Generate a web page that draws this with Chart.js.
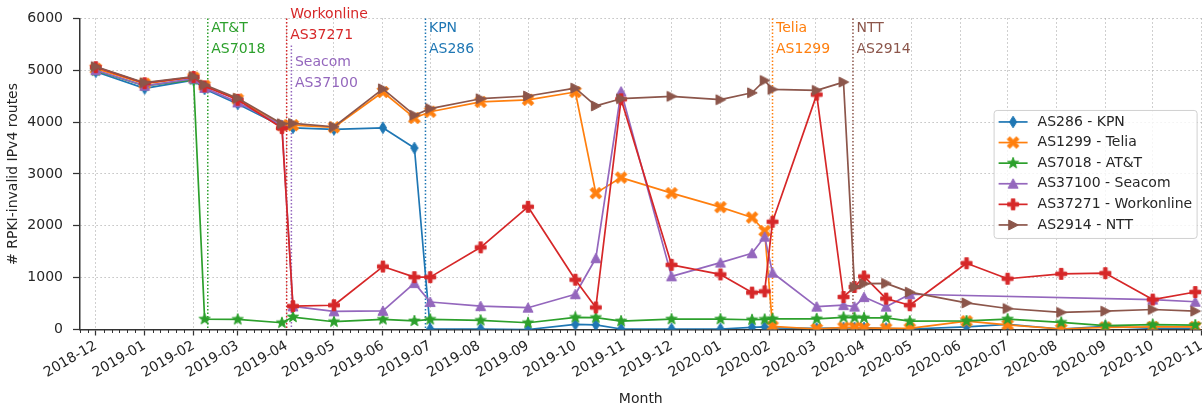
<!DOCTYPE html>
<html>
<head>
<meta charset="utf-8">
<script src="https://cdn.jsdelivr.net/npm/chart.js@4.4.0/dist/chart.umd.min.js"></script>
<style>
  html, body { margin: 0; padding: 0; background: #fff; overflow: hidden; }
  #wrap { width: 1212px; height: 411px; }
</style>
</head>
<body>
<div id="wrap"><canvas id="chart" width="1212" height="411"></canvas></div>
<script>
// Measurement dates (x positions of the markers)
const dates = ['2018-12-01', '2019-01-01', '2019-02-01', '2019-02-08', '2019-03-01', '2019-03-29',
    '2019-04-05', '2019-05-01', '2019-06-01', '2019-06-21', '2019-07-01', '2019-08-02',
    '2019-09-01', '2019-10-01', '2019-10-14', '2019-10-30', '2019-12-01', '2020-01-01',
    '2020-01-21', '2020-01-29', '2020-02-03', '2020-03-02', '2020-03-19', '2020-03-26',
    '2020-04-01', '2020-04-15', '2020-04-30', '2020-06-05', '2020-07-01', '2020-08-04',
    '2020-09-01', '2020-10-01', '2020-10-28'];

// # RPKI-invalid IPv4 routes per AS
const kpn = [4970, 4650, 4810, 4640, 4350, 3920, 3890, 3860, 3890, 3500, 10, 10, 0, 100, 90, 10, 10,
    10, 40, 50, 30, 20, 30, 30, 30, 20, 10, 50, 100, 10, 60, 20, 20];
const telia = [5030, 4740, 4860, 4700, 4440, 3940, 3940, 3900, 4580, 4080, 4200, 4390, 4430, 4580, 2630,
    2930, 2630, 2360, 2160, 1900, 60, 10, 40, 40, 30, 20, 20, 160, 90, 10, 40, 50, 50];
const att = [4990, 4700, 4820, 200, 195, 130, 240, 150, 195, 165, 195, 175, 130, 233, 230, 162, 200,
    200, 188, 195, 205, 205, 235, 230, 225, 225, 160, 165, 200, 137, 75, 95, 86];
const seacom = [5000, 4700, 4840, 4660, 4380, 3940, 445, 350, 360, 895, 530, 450, 420, 680, 1375, 4590,
    1025, 1290, 1470, 1790, 1095, 440, 470, 440, 625, 440, 680, null, null, null, null, 577, 535];
const workonline = [5060, 4750, 4870, 4690, 4430, 3885, 450, 468, 1214, 1010, 1010, 1585, 2367, 960, 425,
    4440, 1247, 1062, 712, 736, 2077, 4530, 627, 820, 1023, 596, 468, 1278, 979, 1074, 1087, 577, 723];
const ntt = [5070, 4760, 4880, 4720, 4460, 3970, 3975, 3910, 4642, 4133, 4260, 4451, 4503, 4656, 4312,
    4451, 4497, 4432, 4566, 4803, 4631, 4612, 4771, 818, 883, 890, 720, 513, 405, 330, 354, 386, 354];

const seriesLabels = ['AS286 - KPN', 'AS1299 - Telia', 'AS7018 - AT&T', 'AS37100 - Seacom',
    'AS37271 - Workonline', 'AS2914 - NTT'];
const seriesValues = [kpn, telia, att, seacom, workonline, ntt];

// x-axis tick labels (month starts)
const monthLabels = ['2018-12', '2019-01', '2019-02', '2019-03', '2019-04', '2019-05', '2019-06',
    '2019-07', '2019-08', '2019-09', '2019-10', '2019-11', '2019-12', '2020-01', '2020-02', '2020-03',
    '2020-04', '2020-05', '2020-06', '2020-07', '2020-08', '2020-09', '2020-10', '2020-11'];

// ROV deployment events (vertical lines)
const eventDates = ['2019-02-10', '2019-04-01', '2019-04-04', '2019-06-28', '2020-02-03', '2020-03-25'];
const eventNames = ['AT&T', 'Workonline', 'Seacom', 'KPN', 'Telia', 'NTT'];
const eventAsns = ['AS7018', 'AS37271', 'AS37100', 'AS286', 'AS1299', 'AS2914'];
const eventSeries = [2, 4, 3, 0, 1, 5];

const palette = ['#1f77b4', '#ff7f0e', '#2ca02c', '#9467bd', '#d62728', '#8c564b'];
const shapes = ['d', 'X', '*', '^', 'P', '>'];

const dayOf = s => (Date.parse(s) - Date.parse('2018-12-01')) / 864e5;
const monthDays = monthLabels.map(m => dayOf(m + '-01'));

Chart.defaults.font.family = '"DejaVu Sans", sans-serif';
Chart.defaults.font.size = 14;
Chart.defaults.color = '#262626';

// matplotlib-like filled markers
function makeMarker(shape, color) {
    const s = 18, c = s / 2;
    const cv = document.createElement('canvas');
    cv.width = s;
    cv.height = s;
    const g = cv.getContext('2d');
    g.fillStyle = color;
    g.strokeStyle = color;
    g.lineWidth = 1;
    let pts = [];
    if (shape === 'd') {
        pts = [[0, -5.8], [3.6, 0], [0, 5.8], [-3.6, 0]];
    } else if (shape === '^') {
        pts = [[0, -5], [5, 4.4], [-5, 4.4]];
    } else if (shape === '>') {
        pts = [[5.2, 0], [-4.4, -5], [-4.4, 5]];
    } else if (shape === '*') {
        for (let k = 0; k < 10; k++) {
            const r = k % 2 ? 2.4 : 5.8, t = -Math.PI / 2 + k * Math.PI / 5;
            pts.push([r * Math.cos(t), r * Math.sin(t)]);
        }
    } else {
        // filled plus, rotated 45 degrees for the X
        const w = 1.8, L = shape === 'X' ? 6.5 : 5.4;
        const plus = [[-w, -L], [w, -L], [w, -w], [L, -w], [L, w], [w, w], [w, L], [-w, L],
            [-w, w], [-L, w], [-L, -w], [-w, -w]];
        const t = shape === 'X' ? Math.PI / 4 : 0;
        pts = plus.map(([px, py]) => [px * Math.cos(t) - py * Math.sin(t), px * Math.sin(t) + py * Math.cos(t)]);
    }
    g.beginPath();
    pts.forEach(([px, py], k) => k ? g.lineTo(c + px, c + py) : g.moveTo(c + px, c + py));
    g.closePath();
    g.fill();
    g.stroke();
    return cv;
}

const datasets = seriesLabels.map((label, i) => ({
    label,
    data: dates.map((d, k) => ({ x: dayOf(d), y: seriesValues[i][k] })),
    borderColor: palette[i],
    backgroundColor: palette[i],
    borderWidth: 1.7,
    borderJoinStyle: 'round',
    pointStyle: makeMarker(shapes[i], palette[i]),
    pointRadius: 5,
    spanGaps: true,
    order: seriesLabels.length - i
}));

// dotted vertical lines with the AS name / number
const eventLines = {
    id: 'eventLines',
    beforeDatasetsDraw(chart) {
        const { ctx, chartArea: a, scales: { x } } = chart;
        const firstBaseline = [14, 0, 48, 14, 14, 14];
        ctx.save();
        ctx.font = '14px "DejaVu Sans"';
        ctx.textBaseline = 'alphabetic';
        eventDates.forEach((d, i) => {
            const px = x.getPixelForValue(dayOf(d));
            const color = palette[eventSeries[i]];
            const top = eventNames[i] === 'Seacom' ? a.top + 27 : a.top;
            ctx.strokeStyle = color;
            ctx.lineWidth = 1.5;
            ctx.setLineDash([1.5, 2]);
            ctx.beginPath();
            ctx.moveTo(px, top);
            ctx.lineTo(px, a.bottom);
            ctx.stroke();
            ctx.fillStyle = color;
            const by = a.top + firstBaseline[i];
            ctx.fillText(eventNames[i], px + 3.5, by);
            ctx.fillText(eventAsns[i], px + 3.5, by + 20.5);
        });
        ctx.restore();
    }
};

// minor ticks every 5 days on the x axis
const minorTicks = {
    id: 'minorTicks',
    afterDraw(chart) {
        const { ctx, chartArea: a, scales: { x } } = chart;
        ctx.save();
        ctx.strokeStyle = '#333';
        ctx.lineWidth = 1;
        ctx.beginPath();
        ['2018-11'].concat(monthLabels).forEach(m => {
            [6, 11, 16, 21, 26].forEach(d => {
                const v = dayOf(m + '-' + String(d).padStart(2, '0'));
                if (v < x.min || v > x.max) return;
                const px = Math.round(x.getPixelForValue(v)) + 0.5;
                ctx.moveTo(px, a.bottom);
                ctx.lineTo(px, a.bottom + 3.5);
            });
        });
        ctx.stroke();
        ctx.restore();
    }
};

// legend box at centre right of the plot
const legendBox = {
    id: 'legendBox',
    afterDraw(chart) {
        const { ctx, chartArea: a } = chart;
        const w = 203, h = 128, rowH = 20.6;
        const x0 = a.right - 5 - w, y0 = (a.top + a.bottom) / 2 - h / 2;
        ctx.save();
        ctx.fillStyle = 'rgba(255,255,255,0.8)';
        ctx.strokeStyle = '#d0d0d0';
        ctx.lineWidth = 1;
        ctx.beginPath();
        if (ctx.roundRect) ctx.roundRect(x0 + 0.5, y0 + 0.5, w, h, 3);
        else ctx.rect(x0 + 0.5, y0 + 0.5, w, h);
        ctx.fill();
        ctx.stroke();
        ctx.font = '14px "DejaVu Sans"';
        ctx.textBaseline = 'middle';
        chart.data.datasets.forEach((ds, i) => {
            const cy = y0 + 12 + i * rowH;
            ctx.strokeStyle = ds.borderColor;
            ctx.lineWidth = 1.7;
            ctx.beginPath();
            ctx.moveTo(x0 + 5, cy);
            ctx.lineTo(x0 + 34, cy);
            ctx.stroke();
            const img = ds.pointStyle;
            ctx.drawImage(img, x0 + 19.5 - img.width / 2, cy - img.height / 2);
            ctx.fillStyle = '#262626';
            ctx.fillText(ds.label, x0 + 44, cy);
        });
        ctx.restore();
    }
};

new Chart(document.getElementById('chart'), {
    type: 'line',
    data: { datasets },
    plugins: [eventLines, minorTicks, legendBox],
    options: {
        responsive: false,
        animation: false,
        events: [],
        layout: { padding: { top: 16, right: 7, left: 0, bottom: 0 } },
        plugins: { legend: { display: false }, tooltip: { enabled: false } },
        scales: {
            x: {
                type: 'linear',
                min: -10,
                max: 701,
                afterBuildTicks: s => { s.ticks = monthDays.map(v => ({ value: v })); },
                afterFit: s => { s.height = 81.5; },
                ticks: {
                    autoSkip: false,
                    minRotation: 30,
                    maxRotation: 30,
                    padding: 2,
                    color: '#262626',
                    callback: v => monthLabels[monthDays.indexOf(v)] || ''
                },
                grid: { color: '#b0b0b0', lineWidth: 1, tickLength: 6, tickColor: '#333', tickWidth: 1.25, tickBorderDash: [] },
                border: { display: true, color: '#333', width: 1.5, dash: [1.2, 2.8] },
                title: { display: true, text: 'Month', color: '#262626', padding: { top: 0, bottom: 3 } }
            },
            y: {
                min: 0,
                max: 6000,
                afterFit: s => { s.width = 80; },
                ticks: { stepSize: 1000, padding: 10, color: '#262626', callback: v => String(v) },
                grid: { color: '#b0b0b0', lineWidth: 1, tickLength: 7, tickColor: '#333', tickWidth: 1.25, tickBorderDash: [] },
                border: { display: true, color: '#333', width: 1.5, dash: [1.2, 2.8] },
                title: { display: true, text: '# RPKI-invalid IPv4 routes', color: '#262626', padding: { top: 5, bottom: 0 } }
            }
        }
    }
});
</script>
</body>
</html>
